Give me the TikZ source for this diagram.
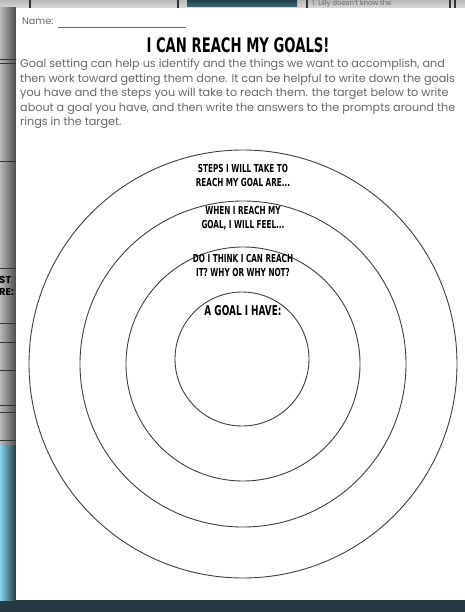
\documentclass[tikz,border=0pt]{standalone}
\usepackage{fontspec}
\setmainfont{Poppins}
\newfontfamily\ringfont{DejaVu Sans}[FakeStretch=0.66]
\usetikzlibrary{positioning}
\definecolor{deskslate}{HTML}{243940}
\definecolor{deskteal}{HTML}{3E6B78}
\definecolor{skyblue}{HTML}{86D5F0}
\definecolor{inkgray}{HTML}{686868}

\begin{document}
\begin{tikzpicture}[x=1pt,y=-1pt,every node/.style={inner sep=0pt},
  ringline/.style={draw=black!75,line width=0.9pt},
  ringlabel/.style={font=\ringfont\bfseries\fontsize{11}{14}\selectfont,align=center},
  bodyline/.style={font=\fontsize{11.2}{13}\selectfont,text=inkgray,anchor=base west}]
\useasboundingbox (0,0) rectangle (465,612);
% desk and the sheets underneath
\fill[deskslate] (0,0) rectangle (465,612);
\shade[top color=gray!55,bottom color=gray!30] (0,0) rectangle (465,8);
\shade[top color=deskteal!60!black,bottom color=deskteal] (187,0) rectangle (297,7);
\foreach \xx in {30,178,307,450,455}
  \draw[black!80,line width=1.2pt] (\xx,0) -- (\xx,8);
\shade[left color=gray!55,middle color=gray!85,right color=black!70] (0,8) rectangle (16,445);
\foreach \yy in {60,64,162,268,323,342,370,405,412,440}
  \draw[black!80,line width=1pt] (0,\yy) -- (16,\yy);
\shade[left color=skyblue,middle color=skyblue!70!deskslate,right color=deskslate] (0,445) rectangle (16,600);
\node[font=\bfseries\fontsize{10}{12}\selectfont,anchor=west] (bgst) at (-1,280) {ST};
\node[font=\bfseries\fontsize{10}{12}\selectfont,anchor=west] (bgre) at (-1,292) {RE:};
\node[font=\fontsize{7}{8}\selectfont,text=black!60,anchor=west] (bglilly) at (312,4) {1. Lilly doesn't know the};
% the worksheet
\fill[white] (16,8) rectangle (465,600);
\node[anchor=base west,font=\fontsize{9.6}{11}\selectfont,text=inkgray] (namelbl) at (22,25) {Name:};
\coordinate (nameend) at (186,27);
\draw[inkgray,line width=0.6pt] ([xshift=4pt,yshift=-2pt]namelbl.base east) -- (nameend);
\node[font=\ringfont\bfseries\fontsize{20}{24}\selectfont] (title) at (238,45) {I CAN REACH MY GOALS!};
\foreach \ln/\bl/\txt in {%
  1/68/{Goal setting can help us identify and the things we want to accomplish, and},%
  2/82.5/{then work toward getting them done. It can be helpful to write down the goals},%
  3/97/{you have and the steps you will take to reach them. the target below to write},%
  4/111.5/{about a goal you have, and then write the answers to the prompts around the},%
  5/126/{rings in the target.}%
} {
  \node[bodyline] (body\ln) at (20,\bl) {\txt};
}
% target rings
\coordinate (ctr) at (243,364);
\foreach \rr in {214,163,117}
  \draw[ringline] (ctr) circle[radius=\rr];
\draw[ringline] (242,359) circle[radius=67];
\foreach \nm/\yc/\txt in {%
  steps/175/{STEPS I WILL TAKE TO\\REACH MY GOAL ARE...},%
  feel/218/{WHEN I REACH MY\\GOAL, I WILL FEEL...},%
  reach/265/{DO I THINK I CAN REACH\\IT? WHY OR WHY NOT?}%
} {
  \node[ringlabel] (lbl-\nm) at (243,\yc) {\txt};
}
\node[ringlabel,font=\ringfont\bfseries\fontsize{13.5}{16}\selectfont] (lbl-goal) at (243,311) {A GOAL I HAVE:};
\end{tikzpicture}
\end{document}
